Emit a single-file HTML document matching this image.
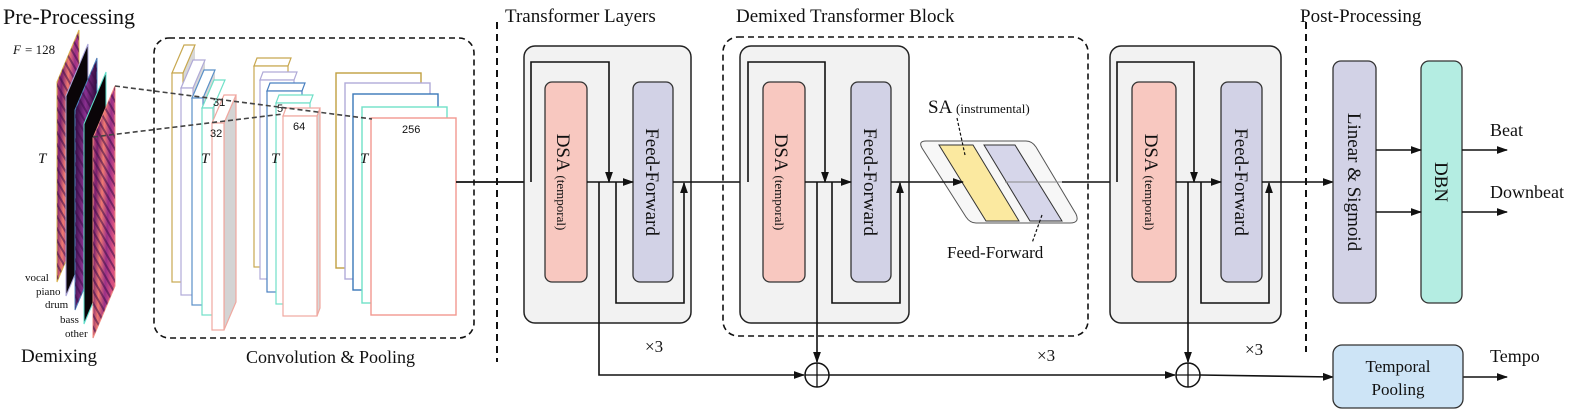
<!DOCTYPE html>
<html><head><meta charset="utf-8"><style>
html,body{margin:0;padding:0;background:#fff;}
svg{display:block;}
text{font-family:"Liberation Serif",serif;fill:#111;}
.s{font-family:"Liberation Sans",sans-serif;}
</style></head><body>
<svg width="1577" height="412" viewBox="0 0 1577 412" xmlns="http://www.w3.org/2000/svg">
<defs>
<marker id="ar" viewBox="0 0 10 10" refX="9" refY="5" markerWidth="7" markerHeight="7" orient="auto-start-reverse"><path d="M0,1.5 L10,5 L0,8.5 z" fill="#111"/></marker>
<linearGradient id="mag" x1="0" y1="0" x2="1" y2="0.4"><stop offset="0" stop-color="#e8607a"/><stop offset="0.25" stop-color="#7a2070"/><stop offset="0.5" stop-color="#f07a70"/><stop offset="0.75" stop-color="#9a3088"/><stop offset="1" stop-color="#d85080"/></linearGradient>
<linearGradient id="pur" x1="0" y1="0" x2="1" y2="0.2"><stop offset="0" stop-color="#2a0a3a"/><stop offset="0.5" stop-color="#8a3090"/><stop offset="1" stop-color="#2a0a3a"/></linearGradient>
<pattern id="str" width="6" height="6" patternUnits="userSpaceOnUse" patternTransform="rotate(-30)"><rect width="6" height="6" fill="none"/><rect width="2" height="6" fill="#3a0c48" opacity="0.55"/></pattern>
</defs>

<text x="3" y="24" font-size="22">Pre-Processing</text>
<text x="505" y="22" font-size="19">Transformer Layers</text>
<text x="736" y="22" font-size="19">Demixed Transformer Block</text>
<text x="1300" y="22" font-size="19">Post-Processing</text>

<line x1="497" y1="22" x2="497" y2="362" stroke="#111" stroke-width="2" stroke-dasharray="7,5"/>
<line x1="1306" y1="22" x2="1306" y2="352" stroke="#111" stroke-width="2" stroke-dasharray="7,5"/>

<text x="13" y="54" font-size="13" font-style="italic">F</text><text x="25" y="54" font-size="13">= 128</text>
<text x="38" y="163" font-size="15" font-style="italic">T</text>
<polygon points="57,82 79,30 79,230 57,282" fill="url(#mag)" stroke="#d9b04a" stroke-width="1"/>
<polygon points="57,82 79,30 79,230 57,282" fill="url(#str)"/>
<polygon points="66,96 88,44 88,244 66,296" fill="#0a0508" stroke="#a9a3d8" stroke-width="1"/>
<polygon points="75,110 97,58 97,258 75,310" fill="url(#pur)" stroke="#4f86c0" stroke-width="1"/>
<polygon points="75,110 97,58 97,258 75,310" fill="url(#str)"/>
<polygon points="84,124 106,72 106,272 84,324" fill="#0a0508" stroke="#5fe0cc" stroke-width="1"/>
<polygon points="93,138 115,86 115,286 93,338" fill="url(#mag)" stroke="#f08a80" stroke-width="1"/>
<polygon points="93,138 115,86 115,286 93,338" fill="url(#str)"/>
<text x="25" y="281" font-size="11">vocal</text>
<text x="36" y="295" font-size="11">piano</text>
<text x="45" y="308" font-size="11">drum</text>
<text x="60" y="323" font-size="11">bass</text>
<text x="65" y="337" font-size="11">other</text>
<text x="21" y="362" font-size="19">Demixing</text>

<rect x="154" y="38" width="320" height="300" rx="15" fill="none" stroke="#111" stroke-width="1.6" stroke-dasharray="6,4"/>
<text x="246" y="363" font-size="18">Convolution &amp; Pooling</text>

<g stroke-width="1.2" fill="#fff">
<polygon points="183,73 195,45 195,255 183,282" fill="#d8d8d8" stroke="none"/>
<polygon points="172,73 184,45 195,45 183,73" stroke="#c8a850"/><rect x="172" y="73" width="11" height="209" stroke="#c8a850"/>
<polygon points="193,88 205,60 205,268 193,295" fill="#d8d8d8" stroke="none"/>
<polygon points="181,88 193,60 205,60 193,88" stroke="#b0aad8"/><rect x="181" y="88" width="12" height="207" stroke="#b0aad8"/>
<polygon points="203,98 215,70 215,278 203,305" fill="#d8d8d8" stroke="none"/>
<polygon points="192,98 204,70 215,70 203,98" stroke="#5a90c8"/><rect x="192" y="98" width="11" height="207" stroke="#5a90c8"/>
<polygon points="202,108 214,80 225,80 213,108" stroke="#70e0c8"/><rect x="202" y="108" width="11" height="207" stroke="#70e0c8"/>
<polygon points="224,123 236,95 236,302 224,330" fill="#d4d4d4" stroke="#f0a8a0"/>
<polygon points="212,123 224,95 236,95 224,123" stroke="#f0a8a0"/><rect x="212" y="123" width="12" height="207" stroke="#f0a8a0"/>
</g>
<text class="s" x="213" y="106" font-size="11">31</text>
<text class="s" x="210" y="137" font-size="11">32</text>
<text x="201" y="163" font-size="15" font-style="italic">T</text>

<g stroke-width="1.2" fill="#fff">
<polygon points="254,66 257,58 291,58 288,66" stroke="#c8a850"/><rect x="254" y="66" width="34" height="201" stroke="#c8a850"/>
<polygon points="260,80 263,72 297,72 294,80" stroke="#b0aad8"/><rect x="260" y="80" width="34" height="199" stroke="#b0aad8"/>
<polygon points="267,91 270,83 305,83 302,91" stroke="#4a80c0"/><rect x="267" y="91" width="35" height="201" stroke="#4a80c0"/>
<polygon points="276,103 279,95 313,95 310,103" stroke="#70e0c8"/><rect x="276" y="103" width="34" height="201" stroke="#70e0c8"/>
<polygon points="317,116 320,108 320,308 317,316" fill="#d8d8d8" stroke="#f0a8a0"/>
<polygon points="283,116 286,108 320,108 317,116" stroke="#f0a8a0"/><rect x="283" y="116" width="34" height="200" stroke="#f0a8a0"/>
</g>
<text class="s" x="277" y="112" font-size="11">5</text>
<text class="s" x="293" y="130" font-size="11">64</text>
<text x="271" y="163" font-size="15" font-style="italic">T</text>

<g stroke-width="1.4" fill="#fff">
<rect x="336" y="73" width="85" height="195" stroke="#c0a040"/>
<rect x="345" y="83" width="85" height="196" stroke="#b0aad8"/>
<rect x="353" y="94" width="85" height="196" stroke="#3a78b8"/>
<rect x="362" y="107" width="85" height="196" stroke="#70e0c8"/>
<rect x="371" y="118" width="85" height="197" stroke="#f29890"/>
</g>
<text class="s" x="402" y="133" font-size="11">256</text>
<text x="360" y="163" font-size="15" font-style="italic">T</text>

<line x1="115" y1="86" x2="372" y2="119" stroke="#444" stroke-width="1.6" stroke-dasharray="5,3"/>
<line x1="93" y1="137" x2="283" y2="114" stroke="#444" stroke-width="1.6" stroke-dasharray="5,3"/>

<line x1="456" y1="182" x2="545" y2="182" stroke="#111" stroke-width="1.8" marker-end="url(#ar)"/>

<rect x="524" y="46" width="167" height="277" rx="11" fill="#f2f2f2" stroke="#222" stroke-width="1.5"/>
<rect x="545" y="82" width="42" height="200" rx="7" fill="#f8c8c0" stroke="#333" stroke-width="1.3"/>
<rect x="633" y="82" width="40" height="200" rx="7" fill="#d2d2e6" stroke="#333" stroke-width="1.3"/>
<text transform="translate(557,182) rotate(90)" text-anchor="middle" font-size="19">DSA <tspan font-size="13">(temporal)</tspan></text>
<text transform="translate(646,182) rotate(90)" text-anchor="middle" font-size="19">Feed-Forward</text>
<g fill="none" stroke="#111" stroke-width="1.6">
<polyline points="531,182 531,62 609,62 609,182" marker-end="url(#ar)"/>
<line x1="587" y1="182" x2="633" y2="182" marker-end="url(#ar)"/>
<polyline points="616,182 616,303 684,303 684,183" marker-end="url(#ar)"/>
<line x1="673" y1="182" x2="763" y2="182" marker-end="url(#ar)"/>
<polyline points="599,182 599,375 804,375" marker-end="url(#ar)"/>
</g>
<text x="645" y="352" font-size="17">×3</text>

<rect x="723" y="37" width="365" height="299" rx="15" fill="none" stroke="#111" stroke-width="1.6" stroke-dasharray="6,4"/>
<rect x="740" y="46" width="169" height="277" rx="11" fill="#f2f2f2" stroke="#222" stroke-width="1.5"/>
<rect x="763" y="82" width="42" height="200" rx="7" fill="#f8c8c0" stroke="#333" stroke-width="1.3"/>
<rect x="851" y="82" width="40" height="200" rx="7" fill="#d2d2e6" stroke="#333" stroke-width="1.3"/>
<text transform="translate(775,182) rotate(90)" text-anchor="middle" font-size="19">DSA <tspan font-size="13">(temporal)</tspan></text>
<text transform="translate(864,182) rotate(90)" text-anchor="middle" font-size="19">Feed-Forward</text>
<g fill="none" stroke="#111" stroke-width="1.6">
<polyline points="748,182 748,62 825,62 825,182" marker-end="url(#ar)"/>
<line x1="805" y1="182" x2="851" y2="182" marker-end="url(#ar)"/>
<polyline points="832,182 832,303 900,303 900,183" marker-end="url(#ar)"/>
<line x1="817" y1="182" x2="817" y2="362" marker-end="url(#ar)"/>
</g>
<path d="M926,141 L1026,141 Q1032,141 1036,147 L1076,214 Q1080,223 1070,223 L976,223 Q970,223 966,217 L922,148 Q918,141 926,141 z" fill="#f7f7f7" stroke="#555" stroke-width="1"/>
<polygon points="939,145 973,145 1019,221 986,221" fill="#fbe9a0" stroke="#333" stroke-width="1"/>
<polygon points="984,145 1015,145 1062,221 1030,221" fill="#d6d6ea" stroke="#333" stroke-width="1"/>
<line x1="891" y1="182" x2="963" y2="182" stroke="#111" stroke-width="1.6" marker-end="url(#ar)"/>
<line x1="1062" y1="182" x2="1132" y2="182" stroke="#111" stroke-width="1.6" marker-end="url(#ar)"/>
<line x1="1005" y1="182" x2="1062" y2="182" stroke="#888" stroke-width="1"/>
<text x="928" y="113" font-size="19">SA <tspan font-size="13">(instrumental)</tspan></text>
<line x1="957" y1="118" x2="965" y2="155" stroke="#111" stroke-width="1.2" stroke-dasharray="3,2"/>
<line x1="1042" y1="215" x2="1032" y2="243" stroke="#111" stroke-width="1.2" stroke-dasharray="3,2"/>
<text x="947" y="258" font-size="17">Feed-Forward</text>
<text x="1037" y="361" font-size="17">×3</text>

<circle cx="817" cy="375" r="12" fill="#fff" stroke="#111" stroke-width="1.5"/>
<line x1="805" y1="375" x2="829" y2="375" stroke="#111" stroke-width="1.3"/><line x1="817" y1="363" x2="817" y2="387" stroke="#111" stroke-width="1.3"/>
<line x1="829" y1="375" x2="1175" y2="375" stroke="#111" stroke-width="1.6" marker-end="url(#ar)"/>
<circle cx="1188" cy="375" r="12" fill="#fff" stroke="#111" stroke-width="1.5"/>
<line x1="1176" y1="375" x2="1200" y2="375" stroke="#111" stroke-width="1.3"/><line x1="1188" y1="363" x2="1188" y2="387" stroke="#111" stroke-width="1.3"/>
<line x1="1200" y1="375" x2="1333" y2="377" stroke="#111" stroke-width="1.6" marker-end="url(#ar)"/>

<rect x="1110" y="46" width="171" height="277" rx="11" fill="#f2f2f2" stroke="#222" stroke-width="1.5"/>
<rect x="1132" y="82" width="44" height="200" rx="7" fill="#f8c8c0" stroke="#333" stroke-width="1.3"/>
<rect x="1221" y="82" width="41" height="200" rx="7" fill="#d2d2e6" stroke="#333" stroke-width="1.3"/>
<text transform="translate(1145,182) rotate(90)" text-anchor="middle" font-size="19">DSA <tspan font-size="13">(temporal)</tspan></text>
<text transform="translate(1235,182) rotate(90)" text-anchor="middle" font-size="19">Feed-Forward</text>
<g fill="none" stroke="#111" stroke-width="1.6">
<polyline points="1117,182 1117,62 1194,62 1194,182" marker-end="url(#ar)"/>
<line x1="1176" y1="182" x2="1221" y2="182" marker-end="url(#ar)"/>
<polyline points="1201,182 1201,303 1269,303 1269,183" marker-end="url(#ar)"/>
<line x1="1262" y1="182" x2="1333" y2="182" marker-end="url(#ar)"/>
<line x1="1188" y1="182" x2="1188" y2="362" marker-end="url(#ar)"/>
</g>
<text x="1245" y="355" font-size="17">×3</text>

<rect x="1333" y="61" width="43" height="242" rx="8" fill="#d2d2e6" stroke="#333" stroke-width="1.3"/>
<text transform="translate(1348,182) rotate(90)" text-anchor="middle" font-size="19">Linear &amp; Sigmoid</text>
<rect x="1421" y="61" width="41" height="242" rx="8" fill="#b4ede2" stroke="#333" stroke-width="1.3"/>
<text transform="translate(1435,182) rotate(90)" text-anchor="middle" font-size="19">DBN</text>
<g stroke="#111" stroke-width="1.6">
<line x1="1376" y1="150" x2="1421" y2="150" marker-end="url(#ar)"/>
<line x1="1376" y1="212" x2="1421" y2="212" marker-end="url(#ar)"/>
<line x1="1462" y1="150" x2="1507" y2="150" marker-end="url(#ar)"/>
<line x1="1462" y1="212" x2="1507" y2="212" marker-end="url(#ar)"/>
<line x1="1463" y1="377" x2="1507" y2="377" marker-end="url(#ar)"/>
</g>
<text x="1490" y="136" font-size="18">Beat</text>
<text x="1490" y="198" font-size="18">Downbeat</text>
<text x="1490" y="362" font-size="18">Tempo</text>
<rect x="1333" y="345" width="130" height="63" rx="9" fill="#cde4f6" stroke="#333" stroke-width="1.3"/>
<text x="1398" y="372" text-anchor="middle" font-size="17">Temporal</text>
<text x="1398" y="395" text-anchor="middle" font-size="17">Pooling</text>
</svg>
</body></html>
